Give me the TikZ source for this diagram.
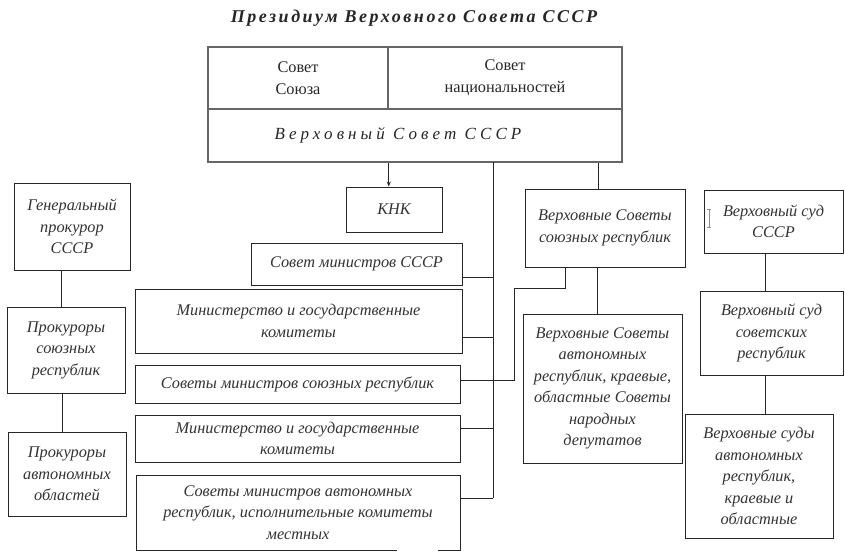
\documentclass[tikz,border=0pt]{standalone}
\usepackage{fontspec}
\setmainfont{Liberation Serif}
\newfontfamily\titlefont[LetterSpace=14]{Liberation Serif}
\newfontfamily\spacedfont[LetterSpace=24]{Liberation Serif}
\usetikzlibrary{arrows.meta}
\begin{document}
\begin{tikzpicture}[x=1pt,y=-1pt,
  box/.style={draw=black!85, line width=0.9pt, rectangle, inner sep=0pt, align=center,
     text=black!80, font=\fontsize{16.3}{21.5}\selectfont\itshape},
  topbox/.style={draw=black!60, line width=1.6pt, rectangle, inner sep=0pt, align=center,
     text=black!85, font=\fontsize{16.3}{22}\selectfont},
  link/.style={draw=black!85, line width=0.9pt},
  tip/.style={-{Stealth[length=5pt,width=4pt]}}]
\useasboundingbox (0,0) rectangle (845,557);
\fill[white] (0,0) rectangle (845,557);

% title
\node[text=black!85, font=\fontsize{18}{20}\selectfont\titlefont\bfseries\itshape] (title) at (414,18) {Президиум Верховного Совета СССР};

% top block
\node[topbox, minimum width=180pt, minimum height=62pt] (soyuza) at (298,78) {Совет\\Союза};
\node[topbox, minimum width=234pt, minimum height=62pt] (nats) at (505,78) {Совет\\национальностей};
\node[topbox, minimum width=414pt, minimum height=53pt] (vs) at (415,135.5) {};
\node[text=black!85, font=\fontsize{17}{20}\selectfont\spacedfont\itshape] (vslabel) at (398,135.5) {Верховный Совет СССР};

% middle column
\node[box, minimum width=96pt, minimum height=45pt] (knk) at (394,209.5) {КНК};
\node[box, minimum width=211pt, minimum height=42pt] (sm) at (356.5,264) {Совет министров СССР};
\node[box, minimum width=327pt, minimum height=64pt] (min1) at (298.5,321) {Министерство и государственные\\комитеты};
\node[box, minimum width=325pt, minimum height=38pt] (smsr) at (297.5,384) {Советы министров союзных республик};
\node[box, minimum width=325pt, minimum height=47pt] (min2) at (297.5,438.5) {Министерство и государственные\\комитеты};
\node[box, minimum width=324pt, minimum height=75pt] (sma) at (298,512.5) {Советы министров автономных\\республик, исполнительные комитеты\\местных};
\draw[white, line width=3pt] (397,550) -- (438,550);

% right-middle column
\node[box, minimum width=160pt, minimum height=78pt] (vss) at (605,228) {Верховные Советы\\союзных республик};
\node[box, minimum width=159pt, minimum height=149pt] (vsa) at (602.5,388.5) {Верховные Советы\\автономных\\республик, краевые,\\областные Советы\\народных\\депутатов};

% courts
\node[box, minimum width=139pt, minimum height=63pt] (vsud) at (773.5,221.5) {Верховный суд\\СССР};
\node[box, minimum width=143pt, minimum height=84pt] (vsud2) at (771.5,333) {Верховный суд\\советских\\республик};
\node[box, minimum width=148pt, minimum height=124pt] (vsud3) at (759,476) {Верховные суды\\автономных\\республик,\\краевые и\\областные};
\draw[black!45, line width=0.6pt] (709,209) -- (709,227) (707,209) -- (711,209) (707,227) -- (711,227);

% prosecutors
\node[box, minimum width=116pt, minimum height=87pt] (gp) at (72,226.5) {Генеральный\\прокурор\\СССР};
\node[box, minimum width=118pt, minimum height=86pt] (ps) at (66,350) {Прокуроры\\союзных\\республик};
\node[box, minimum width=118pt, minimum height=84pt] (pa) at (67,474) {Прокуроры\\автономных\\областей};

% connectors
\coordinate (bt) at (493,162);
\coordinate (bb) at (493,498);
\draw[link] (bt) -- (bb);
\draw[link, tip] (soyuza.south east |- vs.south) -- (soyuza.south east |- knk.north);
\draw[link] (sm.east |- 0,277) -- (bt |- 0,277);
\draw[link] (min1.east |- 0,337) -- (bt |- 0,337);
\draw[link] (min2.east |- 0,428) -- (bt |- 0,428);
\draw[link] (sma.east |- 0,498) -- (bb);
\draw[link] (vs.south -| 598,0) -- (vss.north -| 598,0);
\draw[link] (vss.south -| 597,0) -- (vsa.north -| 597,0);
\draw[link] (vss.south -| 565,0) -- (565,288) -- (514,288) -- (514,380) -- (smsr.east |- 0,380);
\draw[link] (gp.south -| 61,0) -- (ps.north -| 61,0);
\draw[link] (ps.south -| 62,0) -- (pa.north -| 62,0);
\draw[link] (vsud.south -| 765,0) -- (vsud2.north -| 765,0);
\draw[link] (vsud2.south -| 765,0) -- (vsud3.north -| 765,0);
\end{tikzpicture}
\end{document}
